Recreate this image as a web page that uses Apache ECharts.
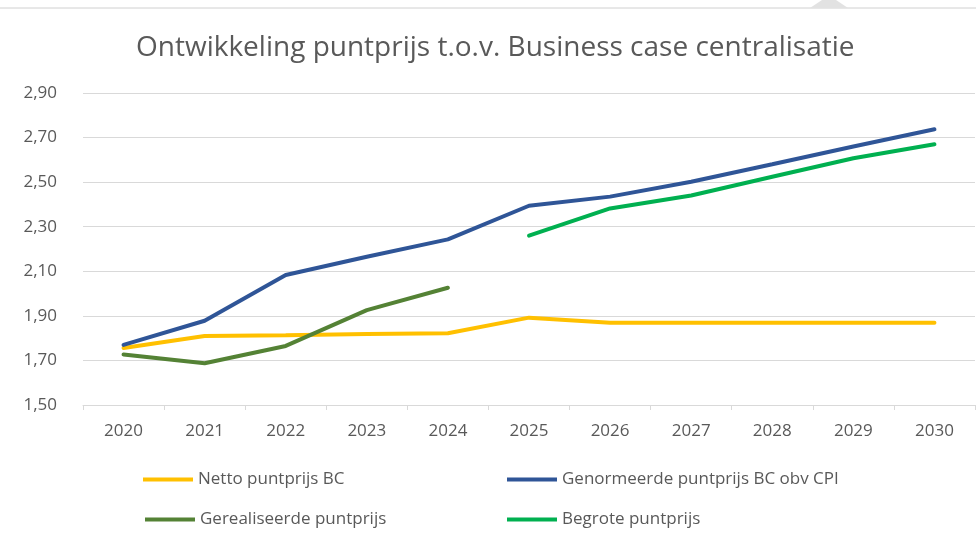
<!DOCTYPE html>
<html>
<head>
<meta charset="utf-8">
<script src="https://cdn.jsdelivr.net/npm/echarts@6/dist/echarts.min.js"></script>
<style>html,body{margin:0;padding:0;background:#fff;}#c{width:976px;height:545px;}</style>
</head>
<body>
<div id="c"></div>
<script>
var years = ['2020','2021','2022','2023','2024','2025','2026','2027','2028','2029','2030'];
var nettoBC = [1.756, 1.81, 1.813, 1.819, 1.822, 1.892, 1.869, 1.869, 1.869, 1.869, 1.869];
var genormeerdCPI = [1.77, 1.878, 2.083, 2.165, 2.243, 2.394, 2.435, 2.502, 2.58, 2.66, 2.737];
var gerealiseerd = [1.727, 1.687, 1.765, 1.926, 2.026, null, null, null, null, null, null];
var begroot = [null, null, null, null, null, 2.26, 2.382, 2.44, 2.524, 2.607, 2.67];
var seriesNames = ['Netto puntprijs BC', 'Genormeerde puntprijs BC obv CPI', 'Gerealiseerde puntprijs', 'Begrote puntprijs'];
var colors = ['#FFC000', '#2F5597', '#548235', '#00B050'];
var titleText = 'Ontwikkeling puntprijs t.o.v. Business case centralisatie';

var chart = echarts.init(document.getElementById('c'), null, {renderer: 'canvas'});
var font = '"Open Sans", sans-serif';
function mkSeries(i, data) {
  return {
    name: seriesNames[i], type: 'line', data: data, symbol: 'none',
    lineStyle: {width: 4, color: colors[i], cap: 'round'},
    itemStyle: {color: colors[i]}, connectNulls: false, animation: false
  };
}
function mkLegend(i, left, top) {
  return {
    data: [seriesNames[i]], left: left, top: top, icon: 'rect', padding: 0,
    itemWidth: 50, itemHeight: 4, itemGap: 0,
    textStyle: {fontFamily: font, fontSize: 17, color: '#595959'}
  };
}
chart.setOption({
  backgroundColor: '#fff',
  animation: false,
  title: {
    text: titleText, left: 136, top: 34, padding: 0,
    textStyle: {fontFamily: font, fontSize: 28, fontWeight: 'normal', color: '#595959'}
  },
  legend: [
    mkLegend(0, 143, 471),
    mkLegend(1, 507, 471),
    mkLegend(2, 145, 511),
    mkLegend(3, 507, 511)
  ],
  grid: {left: 83, right: 1, top: 93, bottom: 140, containLabel: false},
  xAxis: {
    type: 'category', data: years, boundaryGap: true,
    axisLine: {lineStyle: {color: '#d9d9d9', width: 1}},
    axisTick: {show: true, length: 5, lineStyle: {color: '#d9d9d9'}},
    axisLabel: {fontFamily: font, fontSize: 17, color: '#595959', margin: 18}
  },
  yAxis: {
    type: 'value', min: 1.5, max: 2.9, interval: 0.2,
    axisLine: {show: false}, axisTick: {show: false},
    splitLine: {lineStyle: {color: '#d9d9d9', width: 1}},
    axisLabel: {fontFamily: font, fontSize: 17, color: '#595959', margin: 26,
      formatter: function (v) { return v.toFixed(2).replace('.', ','); }}
  },
  graphic: [
    {type: 'line', shape: {x1: 0, y1: 8, x2: 976, y2: 8}, style: {stroke: '#d0d0d0', lineWidth: 1}, silent: true},
    {type: 'polygon', shape: {points: [[810, 8], [848, 8], [836, 0], [822, 0]]}, style: {fill: '#e2e2e2'}, silent: true}
  ],
  series: [
    mkSeries(0, nettoBC),
    mkSeries(1, genormeerdCPI),
    mkSeries(2, gerealiseerd),
    mkSeries(3, begroot)
  ]
});
</script>
</body>
</html>
